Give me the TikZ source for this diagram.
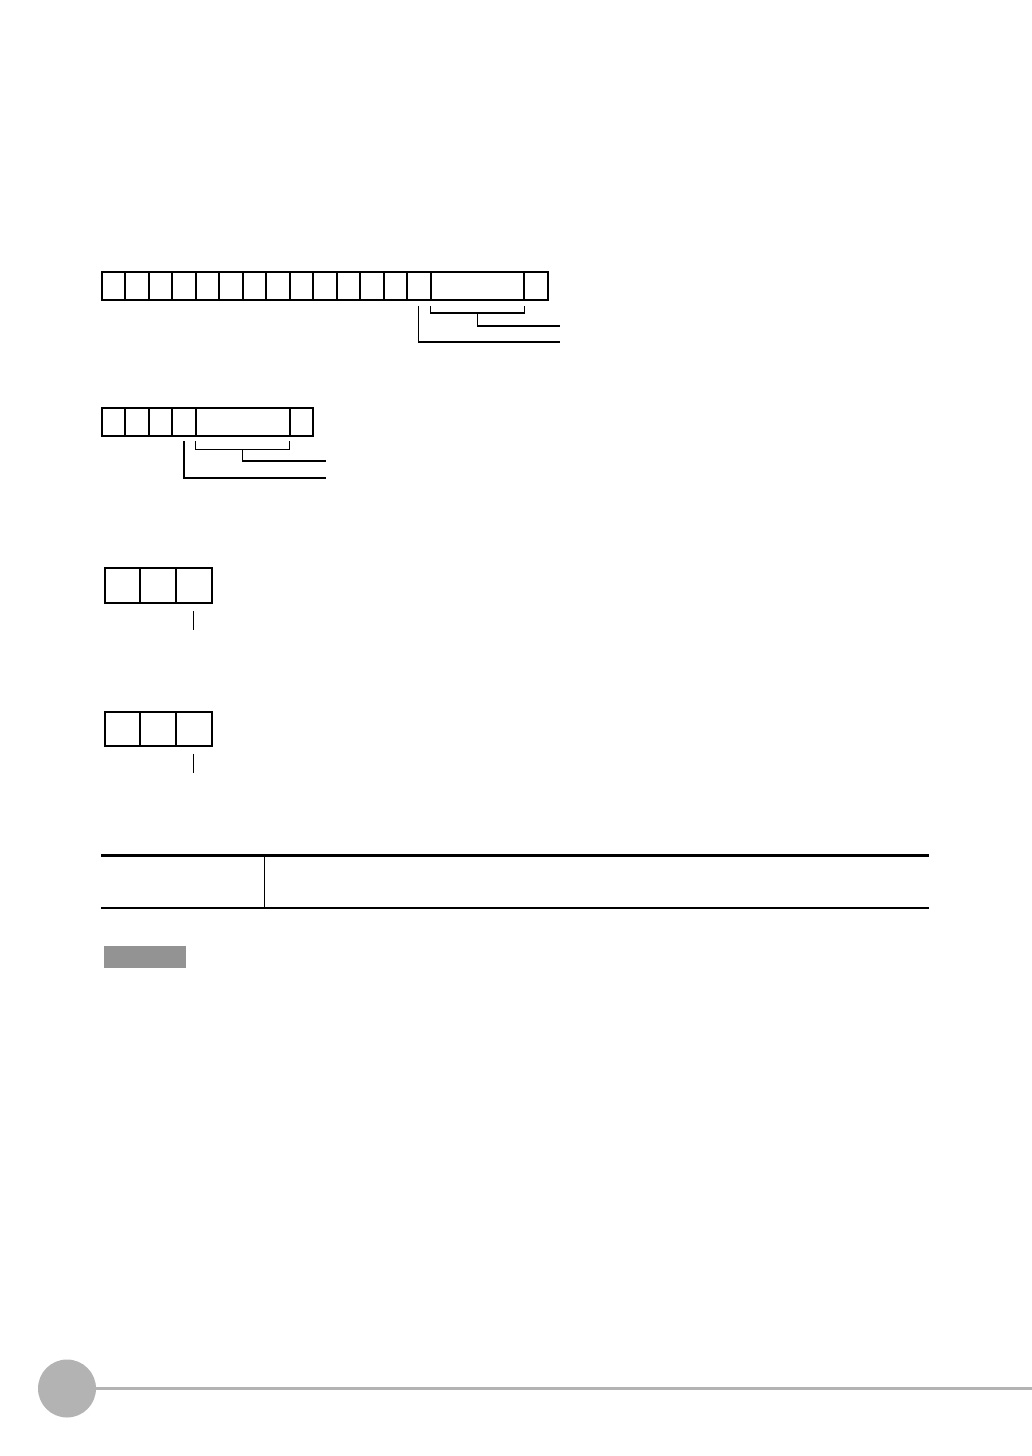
\documentclass[tikz,border=0pt]{standalone}
\usetikzlibrary{calc}
\definecolor{tabgray}{HTML}{939393}
\definecolor{pagegray}{HTML}{B3B3B3}
\begin{document}
\begin{tikzpicture}[x=0.5pt,y=-0.5pt,
  cellbase/.style={draw, line width=1pt, inner sep=0pt, outer sep=0pt},
  cellA/.style={cellbase, minimum width=11.735pt, minimum height=14pt},
  wideA/.style={cellbase, minimum width=46.94pt, minimum height=14pt},
  cellB/.style={cellbase, minimum width=11.72pt, minimum height=14.3pt},
  wideB/.style={cellbase, minimum width=46.88pt, minimum height=14.3pt},
  cellC/.style={cellbase, minimum width=17.88pt, minimum height=17.35pt},
  cellD/.style={cellbase, minimum width=17.88pt, minimum height=16.85pt},
  conn/.style={draw, line width=0.55pt},
  rule/.style={draw, line width=1.25pt},
  thinrule/.style={draw, line width=0.55pt}]
\useasboundingbox (0,0) rectangle (1032,1456);

% ---- row 1 ----
\foreach \i in {0,...,13} {
  \node[cellA] (r1c\i) at ({102+23.47*(\i+0.5)},286) {};
}
\node[cellA, minimum width=11.735pt] (r1e) at ({102+23.47*18.5},286) {};
\node[wideA] (r1w) at ({102+23.47*16},286) {};
\coordinate (r1bl) at ($(r1w.south west)+(0,6)$);
\coordinate (r1br) at ($(r1w.south east)+(0,6)$);
\coordinate (r1stem) at ($(r1w.south)+(0,13)$);
\coordinate (r1end1) at (560,326);
\coordinate (r1end2) at (560,342);
\draw[conn] (r1bl) -- ++(0,7) -| (r1br);
\draw[conn] (r1stem) |- (r1end1);
\draw[conn] ($(r1c13.south)+(0,6)$) |- (r1end2);

% ---- row 2 ----
\foreach \i in {0,...,3} {
  \node[cellB] (r2c\i) at ({102+23.44*(\i+0.5)},422) {};
}
\node[cellB] (r2e) at ({102+23.44*8.5},422) {};
\node[wideB] (r2w) at ({102+23.44*6},422) {};
\coordinate (r2bl) at ($(r2w.south west)+(0,5)$);
\coordinate (r2br) at ($(r2w.south east)+(0,5)$);
\coordinate (r2stem) at ($(r2w.south)+(0,13)$);
\coordinate (r2end1) at (326,461);
\coordinate (r2end2) at (326,478);
\draw[conn] (r2bl) -- ++(0,8) -| (r2br);
\draw[conn] (r2stem) |- (r2end1);
\draw[conn] ($(r2c3.south)+(0,5)$) |- (r2end2);

% ---- row 3 ----
\foreach \i in {0,...,2} {
  \node[cellC] (r3c\i) at ({104.7+35.77*(\i+0.5)},585.7) {};
}
\coordinate (r3t) at ($(r3c2.south)+(-0.6,8)$);
\draw[conn] (r3t) -- ++(0,19);

% ---- row 4 ----
\foreach \i in {0,...,2} {
  \node[cellD] (r4c\i) at ({104.7+35.77*(\i+0.5)},729) {};
}
\coordinate (r4t) at ($(r4c2.south)+(-0.6,8)$);
\draw[conn] (r4t) -- ++(0,19);

% ---- table ----
\draw[rule] (101,855.5) -- (929,855.5);
\draw[rule] (101,908) -- (929,908);
\draw[thinrule] (264.5,855.5) -- (264.5,908);

% ---- gray tag ----
\fill[tabgray] (103.5,945.5) rectangle (185.5,967.5);

% ---- footer ----
\fill[pagegray] (67,1388.5) circle [radius=14.5pt];
\draw[pagegray, line width=1.5pt] (95,1388.3) -- (1032,1388.3);
\end{tikzpicture}
\end{document}
